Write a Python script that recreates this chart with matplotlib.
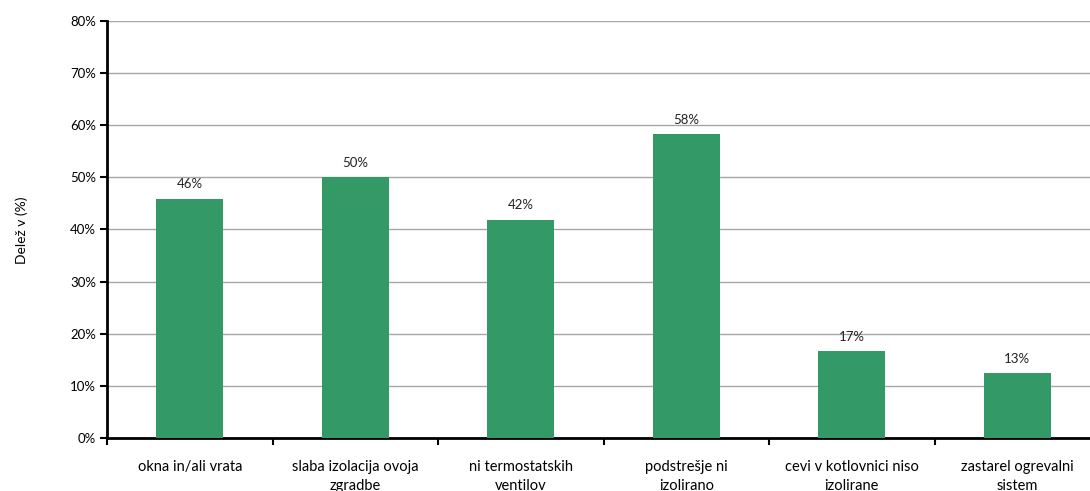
import numpy as np
import matplotlib.pyplot as plt

# Data
categories = ['okna in/ali vrata', 'slaba izolacija ovoja\nzgradbe', 'ni termostatskih\nventilov',
              'podstrešje ni\nizolirano', 'cevi v kotlovnici niso\nizolirane', 'zastarel ogrevalni\nsistem']
values = [45.9, 50.0, 41.9, 58.3, 16.7, 12.5]
labels = ['46%', '50%', '42%', '58%', '17%', '13%']

plt.rcParams['font.family'] = ['Lato', 'DejaVu Sans']

fig = plt.figure(figsize=(10.9, 4.91), dpi=100)
ax = fig.add_axes([107/1090, 53/491, 993/1090, 417/491])

x = np.arange(len(categories))
bars = ax.bar(x, values, width=0.405, color='#339966', zorder=3)
for xi, v, lab in zip(x, values, labels):
    ax.text(xi, v + 1.6, lab, ha='center', va='bottom', fontsize=9.5, color='#222222')

ax.set_ylim(0, 80)
ax.set_xlim(-0.5, len(categories) - 0.5)
ax.set_yticks(np.arange(0, 81, 10))
ax.set_yticklabels([f'{t}%' for t in range(0, 81, 10)], fontsize=9.5)
ax.yaxis.grid(True, color='#a6a6a6', linewidth=1, zorder=0)

ax.set_xticks(x)
ax.set_xticklabels(categories, fontsize=10.5, linespacing=1.45)
ax.set_xticks(np.arange(-0.5, len(categories)), minor=True)
ax.tick_params(axis='x', which='major', length=0, pad=16)
ax.tick_params(axis='x', which='minor', length=5, width=1.5, direction='out')
ax.tick_params(axis='y', length=5, width=1.5, direction='out', pad=3)

for s in ['top', 'right']:
    ax.spines[s].set_visible(False)
for s in ['left', 'bottom']:
    ax.spines[s].set_linewidth(2)

fig.text(22/1090, 1 - 230/491, 'Delež v (%)', rotation=90, ha='center', va='center', fontsize=10)

fig.savefig('out.png', dpi=100)
